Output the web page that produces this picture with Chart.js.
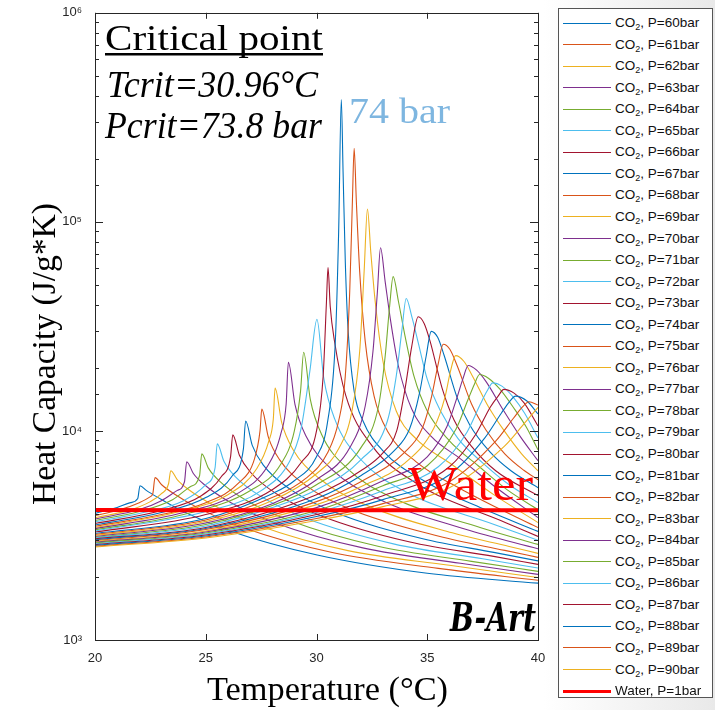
<!DOCTYPE html>
<html>
<head>
<meta charset="utf-8">
<script src="https://cdn.jsdelivr.net/npm/chart.js@4.4.0/dist/chart.umd.min.js"></script>
<style>
  html, body { margin: 0; padding: 0; }
  body {
    width: 715px; height: 710px; overflow: hidden; position: relative;
    background: linear-gradient(90deg, #fff 0%, #fff 76%, #e9e9e9 100%);
    font-family: "Liberation Sans", Arial, sans-serif;
  }
  #chart { position: absolute; left: 0; top: 0; }
  #legend {
    position: absolute; left: 558px; top: 8px; width: 155px; height: 690px;
    box-sizing: border-box; border: 1px solid #555; background: #fff;
  }
  .item { position: absolute; left: 0; width: 100%; height: 20px; }
  .swatch { position: absolute; left: 4px; width: 48px; top: 10px; }
  .label {
    position: absolute; left: 56px; top: 0; line-height: 20px;
    font-size: 13.5px; color: #111; white-space: nowrap;
  }
  .label sub { font-size: 9px; vertical-align: -3px; line-height: 0; }
</style>
</head>
<body>
<canvas id="chart" width="715" height="710"></canvas>
<div id="legend"></div>
<script>
// [temperature (C), heat capacity]
const co2_60 = [[20,4030],[21,4300],[21.6,4540],[21.93,4750],[22.03,5470],[22.33,5180],[22.83,4810],[24.03,4090],[26.03,3340],[30.03,2550],[35,2085],[40,1870]];
const co2_61 = [[20,3940],[21,4160],[22,4540],[22.5,4850],[22.61,5010],[22.71,5980],[23.01,5530],[23.51,5050],[24.71,4250],[26.71,3440],[30.71,2620],[35.5,2200],[40,1930]];
const co2_62 = [[20,3850],[21.5,4160],[22.5,4590],[23,5010],[23.32,5590],[23.42,6450],[23.72,5840],[24.22,5250],[25.42,4370],[27.42,3520],[31.42,2675],[36,2276],[40,1990]];
const co2_63 = [[20,3790],[22,4205],[23,4640],[23.7,5180],[24.04,5715],[24.14,7120],[24.44,6260],[24.94,5530],[26.14,4535],[28.14,3630],[32.14,2750],[36.5,2327],[40,2060]];
const co2_64 = [[20,3728],[22,4115],[23.5,4690],[24.3,5410],[24.72,6105],[24.82,7770],[25.12,6640],[25.62,5755],[26.82,4660],[28.82,3715],[32.82,2800],[37,2378],[40,2130]];
const co2_65 = [[20,3670],[22,4025],[24,4640],[25,5530],[25.42,6660],[25.52,8670],[25.82,7165],[26.32,6070],[27.52,4840],[29.52,3820],[33.52,2875],[37.5,2445],[40,2210]];
const co2_66 = [[20,3610],[23,4160],[24.8,4900],[25.7,6040],[26.12,7520],[26.22,9570],[26.52,7655],[27.02,6345],[28.22,4980],[30.22,3920],[34.22,2940],[38,2512],[40,2300]];
const co2_67 = [[20,3550],[23,4070],[25,4800],[26.2,6105],[26.7,8210],[26.8,11160],[27.1,8530],[27.6,6865],[28.8,5270],[30.8,4095],[34.8,3050],[38,2625],[40,2390]];
const co2_68 = [[20,3500],[23,3980],[25,4540],[26.5,5655],[27.2,7355],[27.45,10000],[27.53,12720],[27.83,9315],[28.33,7290],[29.53,5475],[31.53,4225],[35.53,3135],[38.5,2683],[40,2485]];
const co2_69 = [[20,3450],[24,4160],[26,4955],[27.3,6590],[27.85,8960],[28.05,11410],[28.13,16020],[28.43,10950],[28.93,8180],[30.13,5920],[32.13,4470],[36.13,3255],[38.7,2803],[40,2597]];
const co2_70 = [[20,3408],[24,4070],[26.5,5070],[27.8,6813],[28.4,9780],[28.63,13450],[28.73,21300],[29.03,13360],[29.53,9420],[30.73,6490],[32.73,4760],[36.73,3385],[40,2730]];
const co2_71 = [[20,3365],[24,3980],[27,5180],[28.4,6965],[29,10000],[29.28,15510],[29.42,23780],[29.72,14160],[30.22,9675],[31.42,6570],[33.42,4800],[37.42,3445],[40,2865]];
const co2_72 = [[20,3324],[25,4115],[27.5,5180],[28.8,7197],[29.3,10220],[29.7,19310],[30.02,34150],[30.32,18100],[30.82,11420],[32.02,7260],[34.02,5120],[38.02,3570],[40,3000]];
const co2_73 = [[20,3283],[25,3980],[28,5235],[29.3,7040],[30,10000],[30.3,18280],[30.45,41600],[30.52,60380],[30.62,39380],[30.82,26560],[31.32,14780],[32.52,8465],[34.52,5610],[38.52,3650],[40,3130]];
const co2_74 = [[20,3232],[25,3810],[28,5010],[29,5780],[30,7520],[30.5,11040],[30.85,26830],[31,89620],[31.12,385000],[31.2,173000],[31.3,64500],[31.43,29940],[31.7,15510],[32.1,11160],[33,8031],[35,5653],[37.5,4252],[40,3305]];
const co2_75 = [[20,3197],[25,3750],[28,4800],[29.5,5910],[30.5,7855],[31,11160],[31.3,18280],[31.5,46420],[31.62,124500],[31.7,225000],[31.8,124500],[31.95,57800],[32.2,26830],[32.6,14680],[33.2,10000],[34.5,7118],[36.5,5293],[38.5,4114],[40,3452]];
const co2_76 = [[20,3162],[25,3687],[28,4642],[30,6240],[31,8210],[31.6,12450],[31.95,24040],[32.15,57800],[32.3,115300],[32.45,71970],[32.65,41600],[33,21540],[33.6,12450],[34.5,9160],[36,7040],[38,4957],[40,3646]];
const co2_77 = [[20,3127],[25,3627],[28,4490],[30,5845],[31.5,8300],[32.2,13160],[32.55,24040],[32.75,46420],[32.89,75200],[33.1,51800],[33.35,33410],[33.7,20390],[34.3,12720],[35.2,9363],[36.5,7355],[38,5471],[40,3851]];
const co2_78 = [[20,3093],[25,3568],[28,4394],[30,5530],[32,8300],[32.8,13160],[33.1,22760],[33.3,39380],[33.46,54720],[33.7,41600],[34,28340],[34.4,18280],[35,12450],[36,8962],[37.3,6813],[38.6,5236],[40,4206]];
const co2_79 = [[20,3077],[25,3510],[28,4297],[30,5236],[32,7276],[33.2,11160],[33.6,18280],[33.85,29940],[34.05,42970],[34.3,35290],[34.6,26240],[35,17680],[35.6,12450],[36.4,9160],[37.5,7040],[38.7,5531],[40,4540]];
const co2_80 = [[20,3048],[25,3452],[30,4957],[32,6449],[33,7855],[33.62,10000],[33.98,15510],[34.3,25400],[34.59,35170],[34.86,32680],[35.13,26830],[35.67,16020],[36.21,11280],[37.02,8390],[38.09,6449],[40,4903]];
const co2_81 = [[20,3018],[25,3415],[30,4746],[32,6105],[33.5,8031],[34.2,10220],[34.65,15170],[34.95,22760],[35.18,29940],[35.47,28030],[35.76,23010],[36.34,14520],[36.92,10680],[37.83,7943],[38.78,6449],[40,5351]];
const co2_82 = [[20,2990],[25,3378],[30,4591],[32,5716],[34,7943],[34.8,10440],[35.2,14680],[35.5,21070],[35.72,25960],[36.02,24590],[36.36,20390],[37,13450],[37.65,10110],[38.5,7770],[39.36,6485],[40,5844]];
const co2_83 = [[20,2961],[25,3323],[30,4442],[32,5411],[34,7040],[35.3,10330],[35.8,14520],[36.05,19310],[36.28,22930],[36.65,21540],[37.02,18480],[37.77,13020],[38.51,9890],[39.26,7770],[40,6449]];
const co2_84 = [[20,2935],[25,3287],[30,4297],[33,5780],[35,7520],[35.9,10560],[36.35,14520],[36.62,17880],[36.85,20550],[37.23,19520],[37.64,17300],[38.43,12590],[39.21,9363],[40,7197]];
const co2_85 = [[20,2910],[25,3251],[30,4160],[33,5471],[35,6813],[36.3,10220],[36.85,14210],[37.13,16740],[37.36,18620],[37.76,17880],[38.28,15850],[38.94,12720],[39.47,10440],[40,8120]];
const co2_86 = [[20,2885],[25,3215],[30,4069],[33,5179],[35.5,6738],[36.8,9890],[37.4,13450],[37.7,15510],[37.96,16980],[38.37,16380],[38.88,14520],[39.39,12180],[40,9260]];
const co2_87 = [[20,2860],[25,3180],[30,3980],[33,4903],[36,6738],[37.2,9675],[37.85,13020],[38.2,14680],[38.46,15800],[38.92,15170],[39.38,13590],[40,10560]];
const co2_88 = [[20,2834],[25,3145],[30,3895],[33,4693],[36,6172],[37.6,9260],[38.35,12180],[38.7,13750],[38.99,14680],[39.5,13900],[40,12050]];
const co2_89 = [[20,2808],[25,3111],[30,3810],[33,4490],[36,5716],[38.1,8962],[38.9,11530],[39.3,13020],[39.59,13790],[40,13300]];
const co2_90 = [[20,2785],[25,3077],[30,3728],[33,4346],[36,5350],[38.5,8483],[39.4,10920],[40,12950]];
const water = [[20,4182],[25,4180],[30,4178],[35,4178],[40,4179]];

const pressures = [60,61,62,63,64,65,66,67,68,69,70,71,72,73,74,75,76,77,78,79,80,81,82,83,84,85,86,87,88,89,90];
const co2Curves = [co2_60,co2_61,co2_62,co2_63,co2_64,co2_65,co2_66,co2_67,co2_68,co2_69,co2_70,co2_71,co2_72,co2_73,co2_74,co2_75,co2_76,co2_77,co2_78,co2_79,co2_80,co2_81,co2_82,co2_83,co2_84,co2_85,co2_86,co2_87,co2_88,co2_89,co2_90];

const xTicks = [20, 25, 30, 35, 40];
const yTickValues = [1000, 10000, 100000, 1000000];
const yTickLabels = ["10\u00b3", "10\u2074", "10\u2075", "10\u2076"];

// matlab default line colours
const lineColors = ["#0072BD", "#D95319", "#EDB120", "#7E2F8E", "#77AC30", "#4DBEEE", "#A2142F"];

const datasets = co2Curves.map((pts, i) => ({
  label: "CO2, P=" + pressures[i] + "bar",
  data: pts,
  borderColor: lineColors[i % lineColors.length],
  borderWidth: 1.1,
  pointRadius: 0,
  cubicInterpolationMode: "monotone",
  fill: false,
  order: co2Curves.length - i,
}));
datasets.push({
  label: "Water, P=1bar",
  data: water,
  borderColor: "#ff0000",
  borderWidth: 4,
  pointRadius: 0,
  fill: false,
  order: -1,
});

function stretchText(ctx, text, x, y, font, width, color) {
  ctx.save();
  ctx.font = font;
  const w = ctx.measureText(text).width;
  ctx.translate(x, y);
  ctx.scale(width / w, 1);
  ctx.fillStyle = color;
  ctx.textBaseline = "alphabetic";
  ctx.textAlign = "left";
  ctx.fillText(text, 0, 0);
  ctx.restore();
}

function line(ctx, x1, y1, x2, y2) {
  ctx.beginPath();
  ctx.moveTo(x1, y1);
  ctx.lineTo(x2, y2);
  ctx.stroke();
}

const decorations = {
  id: "decorations",
  beforeDraw(chart) {
    const { ctx, chartArea: a } = chart;
    ctx.save();
    ctx.fillStyle = "#fff";
    ctx.fillRect(a.left, a.top, a.right - a.left, a.bottom - a.top);
    ctx.restore();
  },
  afterDatasetsDraw(chart) {
    const { ctx, chartArea: a } = chart;
    const xs = chart.scales.x, ys = chart.scales.y;
    ctx.save();
    ctx.strokeStyle = "#262626";
    ctx.lineWidth = 1;
    // inward ticks on all four sides
    ys.ticks.forEach((t) => {
      const py = Math.round(ys.getPixelForValue(t.value)) + 0.5;
      const major = yTickValues.includes(t.value);
      const len = major ? 8 : 4;
      line(ctx, a.left, py, a.left + len, py);
      line(ctx, a.right, py, a.right - len, py);
    });
    xs.ticks.forEach((t) => {
      const px = Math.round(xs.getPixelForValue(t.value)) + 0.5;
      line(ctx, px, a.bottom, px, a.bottom - 6);
      line(ctx, px, a.top, px, a.top + 6);
    });
    ctx.strokeRect(Math.round(a.left) + 0.5, Math.round(a.top) + 0.5,
      Math.round(a.right - a.left), Math.round(a.bottom - a.top));
    ctx.restore();
  },
  afterDraw(chart) {
    const ctx = chart.ctx;
    const serif = '"Liberation Serif", "Times New Roman", serif';
    stretchText(ctx, "Critical point", 105, 50, "36px " + serif, 218, "#000");
    ctx.save();
    ctx.fillStyle = "#000";
    ctx.fillRect(105, 53, 218, 2.5);
    ctx.restore();
    stretchText(ctx, "Tcrit=30.96\u00b0C", 107, 97, "italic 38px " + serif, 211, "#000");
    stretchText(ctx, "Pcrit=73.8 bar", 105, 138, "italic 38px " + serif, 217, "#000");
    stretchText(ctx, "74 bar", 349, 123, "36px " + serif, 101, "#7eb6e0");
    stretchText(ctx, "Water", 408, 500, "48px " + serif, 125, "#ff0000");
    stretchText(ctx, "B-Art", 450, 631, 'italic bold 40px "DejaVu Serif", serif', 86, "#000");
    stretchText(ctx, "Temperature (\u00b0C)", 207, 700, "34px " + serif, 241, "#000");
    ctx.save();
    ctx.translate(55, 505);
    ctx.rotate(-Math.PI / 2);
    stretchText(ctx, "Heat Capacity (J/g*K)", 0, 0, "33px " + serif, 302, "#000");
    ctx.restore();
  },
};

const chart = new Chart(document.getElementById("chart").getContext("2d"), {
  type: "line",
  data: { datasets: datasets },
  options: {
    responsive: false,
    animation: false,
    devicePixelRatio: 1,
    layout: { padding: { left: 0, right: 177, top: 10, bottom: 0 } },
    plugins: { legend: { display: false }, tooltip: { enabled: false } },
    scales: {
      x: {
        type: "linear",
        min: 20,
        max: 40,
        afterBuildTicks: (s) => { s.ticks = xTicks.map((v) => ({ value: v })); },
        ticks: {
          padding: 3,
          color: "#262626",
          font: { family: '"Liberation Sans", Arial, sans-serif', size: 13 },
        },
        grid: { display: false },
        border: { display: false },
        afterFit: (s) => { s.height = 70; },
      },
      y: {
        type: "logarithmic",
        min: 1000,
        max: 1000000,
        ticks: {
          autoSkip: false,
          padding: 5,
          color: "#262626",
          font: { family: '"Liberation Sans", "DejaVu Sans", Arial, sans-serif', size: 13 },
          callback: (v) => {
            const k = yTickValues.indexOf(v);
            return k >= 0 ? yTickLabels[k] : "";
          },
        },
        grid: { display: false },
        border: { display: false },
        afterFit: (s) => { s.width = 95; },
      },
    },
  },
  plugins: [decorations],
});

// legend box on the right
const legend = document.getElementById("legend");
chart.data.datasets.forEach((ds, i) => {
  const item = document.createElement("div");
  item.className = "item";
  item.style.top = (4 + i * 21.55) + "px";
  const sw = document.createElement("div");
  sw.className = "swatch";
  const h = ds.borderWidth > 2 ? 3 : 1;
  sw.style.height = h + "px";
  sw.style.marginTop = (-h / 2) + "px";
  sw.style.background = ds.borderColor;
  const lab = document.createElement("div");
  lab.className = "label";
  if (ds.label.startsWith("CO2")) {
    lab.innerHTML = "CO<sub>2</sub>" + ds.label.slice(3);
  } else {
    lab.textContent = ds.label;
  }
  item.appendChild(sw);
  item.appendChild(lab);
  legend.appendChild(item);
});
</script>
</body>
</html>
